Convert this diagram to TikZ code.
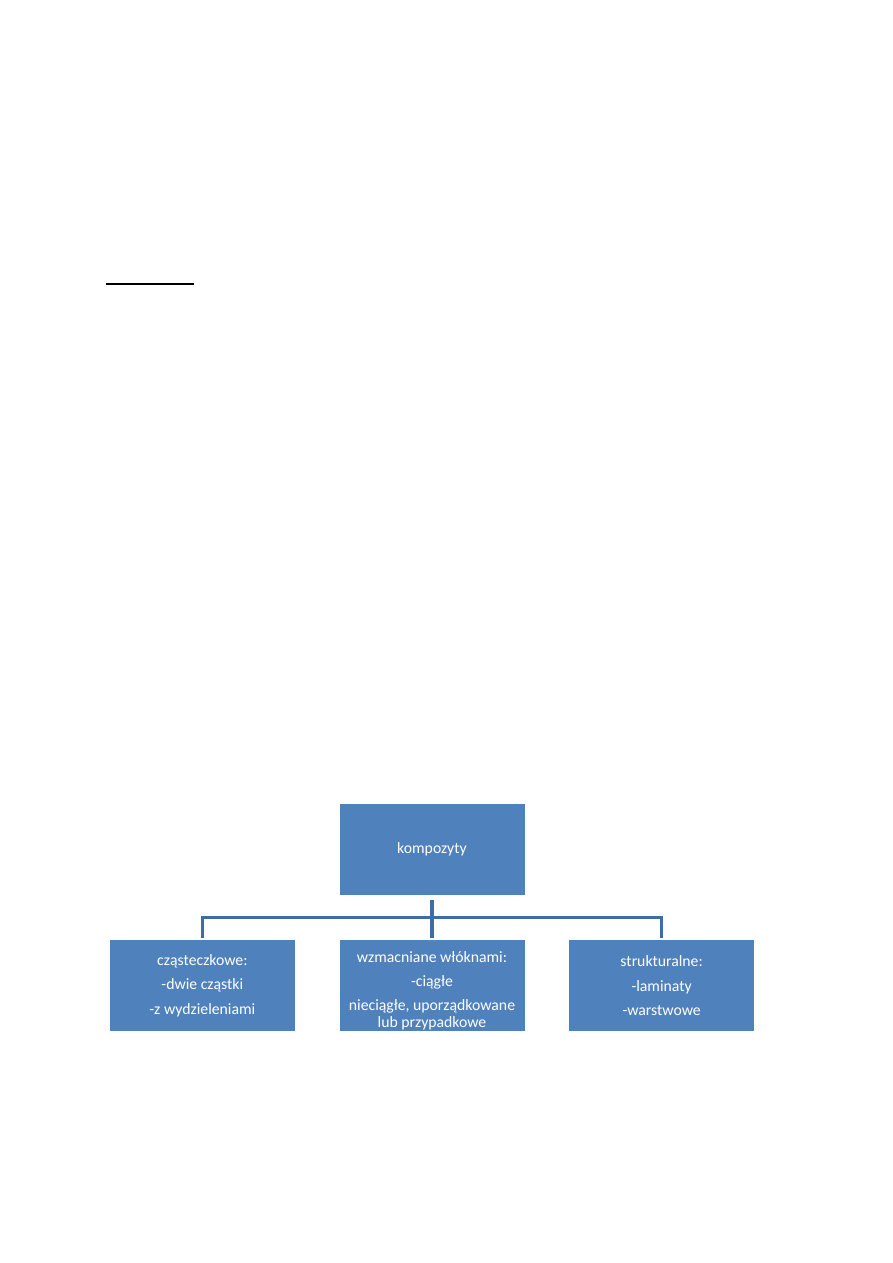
\documentclass[tikz,border=0pt]{standalone}
\usepackage{fontspec}
\setmainfont{Carlito}
\usetikzlibrary{positioning,calc}
\definecolor{BoxBlue}{HTML}{4F81BD}
\definecolor{LinkBlue}{HTML}{3E6DA3}

\begin{document}
\begin{tikzpicture}[
  x=0.6667pt,y=0.6667pt,
  node distance=29.3pt and 28.7pt,
  box/.style={draw=white,line width=0.4pt,fill=BoxBlue,text=white,minimum width=124pt,minimum height=61.3pt,inner sep=1pt,align=center,font=\fontsize{10.5}{11}\selectfont},
  link/.style={draw=LinkBlue,line width=2.4pt}
]
\useasboundingbox (0,0) rectangle (893,1263);
% empty underline at the top of the page
\draw[line width=1.3pt] (106,979) -- (194,979);
\node[box,minimum height=61pt] (comp) at (432,413.5) {kompozyty};
\node[box,below=of comp] (fiber) {\rule{0pt}{14pt}wzmacniane włóknami:\\[5pt]-ciągłe\\[5pt]nieciągłe, uporządkowane\\lub przypadkowe};
\node[box,left=of fiber] (particle) {cząsteczkowe:\\[5.5pt]-dwie cząstki\\[5.5pt]-z wydzieleniami};
\node[box,right=of fiber] (struct) {strukturalne:\\[5.5pt]-laminaty\\[5.5pt]-warstwowe};
\coordinate (hub) at ($(comp.south)!0.5!(fiber.north)$);
\draw[link,shorten <=2.7pt] (comp.south) -- (hub);
\draw[link,shorten <=1.3pt] (fiber.north) -- (hub);
\draw[link,shorten <=1.3pt,shorten >=1.3pt] (particle.north) |- (hub) -| (struct.north);
\end{tikzpicture}
\end{document}
